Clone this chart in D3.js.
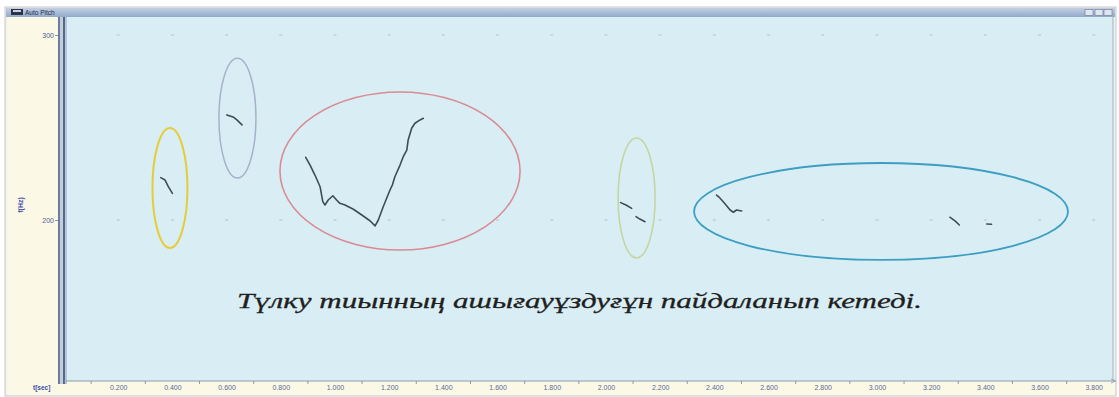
<!DOCTYPE html>
<html>
<head>
<meta charset="utf-8">
<script src="https://cdn.jsdelivr.net/npm/d3@7"></script>
<style>
  html, body { margin: 0; padding: 0; background: #ffffff; }
  svg { display: block; }
</style>
</head>
<body>
<svg id="chart" width="1119" height="397"></svg>
<script>
// Pitch contour segments: time (s) and fundamental frequency (Hz)
const seg1T = [0.357, 0.373, 0.385, 0.400];
const seg1F = [222.9, 221.6, 218.0, 214.4];

const seg2T = [0.601, 0.624, 0.638, 0.657];
const seg2F = [256.8, 255.7, 254.1, 251.4];

const seg3T = [0.892, 0.908, 0.926, 0.945, 0.955, 0.963, 0.975, 0.992, 1.006, 1.018, 1.037, 1.068, 1.099, 1.129, 1.148, 1.160, 1.178, 1.203, 1.212, 1.221, 1.240, 1.252, 1.265, 1.270, 1.283, 1.295, 1.314, 1.326];
const seg3F = [233.9, 229.7, 224.3, 218.0, 209.9, 208.1, 210.8, 213.1, 210.8, 209.0, 208.1, 205.8, 202.7, 199.6, 196.8, 200.0, 207.2, 216.2, 219.0, 223.4, 229.7, 234.2, 237.8, 243.2, 249.6, 252.3, 254.1, 255.0];

const seg4aT = [2.054, 2.074, 2.095];
const seg4aF = [209.4, 208.1, 206.3];
const seg4bT = [2.111, 2.125, 2.144];
const seg4bF = [201.8, 200.5, 199.1];

const seg5T = [2.408, 2.417, 2.427, 2.443, 2.458, 2.470, 2.482, 2.501];
const seg5F = [213.5, 212.4, 210.8, 208.1, 205.4, 204.2, 205.4, 204.9];

const seg6T = [3.269, 3.288, 3.304];
const seg6F = [201.5, 199.5, 197.3];

const seg7T = [3.405, 3.423];
const seg7F = [197.8, 197.7];

// Highlight ovals around syllables: centre (s, Hz) and radii (s, Hz)
const ovalT  = [0.391, 0.640, 1.240, 2.113, 3.015];
const ovalF  = [217.3, 255.1, 226.5, 211.9, 204.6];
const ovalRT = [0.0646, 0.0683, 0.443, 0.0683, 0.690];
const ovalRF = [32.4, 32.4, 42.7, 32.4, 26.2];
const ovalColor = ["#e4cd3a", "#a7b2c9", "#d88c92", "#c3d6a2", "#3c9ec3"];
const ovalWidth = [2, 1.5, 1.6, 1.6, 1.8];

// Axis ticks
const xTickValues = [0.2, 0.4, 0.6, 0.8, 1.0, 1.2, 1.4, 1.6, 1.8, 2.0, 2.2, 2.4, 2.6, 2.8, 3.0, 3.2, 3.4, 3.6, 3.8];
const xMinorValues = [0.1, 0.3, 0.5, 0.7, 0.9, 1.1, 1.3, 1.5, 1.7, 1.9, 2.1, 2.3, 2.5, 2.7, 2.9, 3.1, 3.3, 3.5, 3.7];
const yTickValues = [200, 300];

const sentence = "Түлку тиынның ашығауұздуғұн пайдаланып кетеді.";

const svg = d3.select("#chart");

// Scales
const x = d3.scaleLinear().domain([0, 3.86]).range([64, 1110]);
const y = d3.scaleLinear().domain([200, 300]).range([220, 35]);

// Window frame
const defs = svg.append("defs");
const tg = defs.append("linearGradient").attr("id", "titleGrad").attr("x1", 0).attr("y1", 0).attr("x2", 0).attr("y2", 1);
tg.append("stop").attr("offset", "0%").attr("stop-color", "#c2d0e4");
tg.append("stop").attr("offset", "100%").attr("stop-color", "#92a9c9");

svg.append("rect").attr("x", 5).attr("y", 7).attr("width", 1111).attr("height", 389)
  .attr("fill", "#f0f0f0").attr("stroke", "#c8c8c8");

// title bar
svg.append("rect").attr("x", 6).attr("y", 8).attr("width", 1109).attr("height", 9).attr("fill", "url(#titleGrad)");
svg.append("rect").attr("x", 11).attr("y", 9).attr("width", 12).attr("height", 6).attr("fill", "#2b3146");
svg.append("rect").attr("x", 13).attr("y", 10).attr("width", 8).attr("height", 2).attr("fill", "#c9d2e0");
svg.append("text").attr("x", 25).attr("y", 15).attr("font-family", "Liberation Sans, Arial, sans-serif")
  .attr("font-size", 6.5).attr("fill", "#1e2a4a").text("Auto Pitch");
[1085, 1095, 1104].forEach(bx => {
  svg.append("rect").attr("x", bx).attr("y", 9.5).attr("width", 8).attr("height", 6)
    .attr("fill", "#dfe6f0").attr("stroke", "#6a7690").attr("stroke-width", 0.6);
});

// left panel and bottom band
svg.append("rect").attr("x", 7).attr("y", 17).attr("width", 52).attr("height", 378).attr("fill", "#fbf9e6");
svg.append("rect").attr("x", 58).attr("y", 381).attr("width", 1057).attr("height", 14).attr("fill", "#fbf9e6");

// plot background
svg.append("rect").attr("x", 67).attr("y", 17).attr("width", 1046).attr("height", 364).attr("fill", "#d9eef4");

// vertical split bars
svg.append("rect").attr("x", 58).attr("y", 17).attr("width", 2).attr("height", 367).attr("fill", "#6c7c9c");
svg.append("rect").attr("x", 60).attr("y", 17).attr("width", 3).attr("height", 367).attr("fill", "#c3cedd");
svg.append("rect").attr("x", 63).attr("y", 17).attr("width", 2).attr("height", 367).attr("fill", "#55668a");
svg.append("rect").attr("x", 65).attr("y", 17).attr("width", 2).attr("height", 367).attr("fill", "#b8c6d8");

// right border
svg.append("line").attr("x1", 1113).attr("x2", 1113).attr("y1", 17).attr("y2", 381)
  .attr("stroke", "#9fb0c4").attr("stroke-width", 1);

// grid dots on the labelled frequency lines
const grid = svg.append("g");
yTickValues.forEach(fv => {
  grid.selectAll(null).data(xTickValues).join("line")
    .attr("x1", d => x(d) - 1.5).attr("x2", d => x(d) + 1.5)
    .attr("y1", y(fv)).attr("y2", y(fv))
    .attr("stroke", "#b4c9d2").attr("stroke-width", 1.2);
});

// X axis along the bottom band
const xAxis = d3.axisBottom(x).tickValues(xTickValues).tickSize(0).tickPadding(0)
  .tickFormat(d3.format(".3f"));
const gx = svg.append("g").attr("transform", "translate(0,381)").call(xAxis);
gx.select(".domain").attr("stroke", "#8e9aac").attr("stroke-width", 1.2)
  .attr("d", `M${x(0)},0H1115`);
gx.selectAll("text").attr("y", 8.5).attr("dy", 0)
  .attr("font-family", "Liberation Sans, Arial, sans-serif").attr("font-size", 7)
  .attr("fill", "#5a6896");
svg.append("g").selectAll("line").data(xMinorValues).join("line")
  .attr("x1", d => x(d)).attr("x2", d => x(d)).attr("y1", 381).attr("y2", 384)
  .attr("stroke", "#8e9aac").attr("stroke-width", 1);
svg.append("path").attr("d", "M1111,379 L1116,381 L1111,383").attr("fill", "none")
  .attr("stroke", "#8e9aac").attr("stroke-width", 0.8);

// Y axis labels on the left panel
const yAxis = d3.axisLeft(y).tickValues(yTickValues).tickSize(3).tickPadding(1);
const gy = svg.append("g").attr("transform", "translate(58,0)").call(yAxis);
gy.select(".domain").remove();
gy.selectAll(".tick line").attr("stroke", "#8090b0");
gy.selectAll("text").attr("font-family", "Liberation Sans, Arial, sans-serif").attr("font-size", 7)
  .attr("fill", "#4d5c90");

// axis titles
svg.append("text").attr("transform", "translate(23,205) rotate(-90)").attr("text-anchor", "middle")
  .attr("font-family", "Liberation Sans, Arial, sans-serif").attr("font-size", 7).attr("font-weight", "bold")
  .attr("fill", "#3b4aa6").text("f(Hz)");
svg.append("text").attr("x", 33).attr("y", 390)
  .attr("font-family", "Liberation Sans, Arial, sans-serif").attr("font-size", 6.5).attr("font-weight", "bold")
  .attr("fill", "#3b4aa6").text("t[sec]");

// Highlight ovals
svg.append("g").selectAll("ellipse").data(ovalT).join("ellipse")
  .attr("cx", d => x(d))
  .attr("cy", (d, i) => y(ovalF[i]))
  .attr("rx", (d, i) => x(d + ovalRT[i]) - x(d))
  .attr("ry", (d, i) => y(ovalF[i] - ovalRF[i]) - y(ovalF[i]))
  .attr("fill", "none")
  .attr("stroke", (d, i) => ovalColor[i])
  .attr("stroke-width", (d, i) => ovalWidth[i]);

// Pitch contours
const segments = [
  [seg1T, seg1F], [seg2T, seg2F], [seg3T, seg3F], [seg4aT, seg4aF], [seg4bT, seg4bF],
  [seg5T, seg5F], [seg6T, seg6F], [seg7T, seg7F]
];
const line = d3.line().x(d => x(d[0])).y(d => y(d[1]));
svg.append("g").selectAll("path").data(segments).join("path")
  .attr("d", s => line(s[0].map((t, i) => [t, s[1][i]])))
  .attr("fill", "none").attr("stroke", "#3f4c58").attr("stroke-width", 1.6)
  .attr("stroke-linejoin", "round").attr("stroke-linecap", "round");

// Sentence caption
svg.append("text").attr("x", 237).attr("y", 308)
  .attr("font-family", "Liberation Serif, 'DejaVu Serif', serif").attr("font-style", "italic")
  .attr("font-size", 20).attr("fill", "#1f1f1f")
  .attr("stroke", "#1f1f1f").attr("stroke-width", 0.3)
  .attr("textLength", 685).attr("lengthAdjust", "spacingAndGlyphs")
  .text(sentence);
</script>
</body>
</html>
